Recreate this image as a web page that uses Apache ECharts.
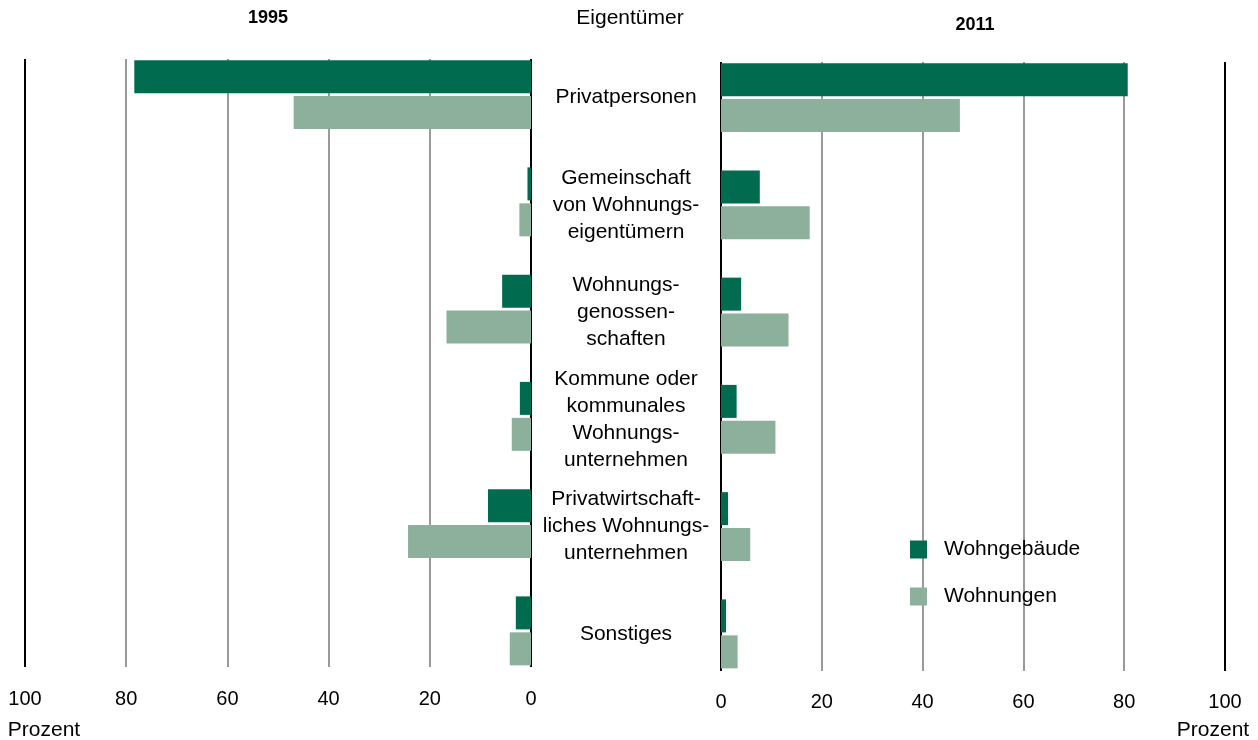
<!DOCTYPE html>
<html>
<head>
<meta charset="utf-8">
<script src="https://cdn.jsdelivr.net/npm/echarts@6/dist/echarts.min.js"></script>
<style>
  html, body { margin: 0; padding: 0; background: #fff; }
  #chart { width: 1258px; height: 740px; }
</style>
</head>
<body>
<div id="chart"></div>
<script>
// Eigentümer categories, top to bottom
const owners = [
  "Privatpersonen",
  "Gemeinschaft\nvon Wohnungs-\neigentümern",
  "Wohnungs-\ngenossen-\nschaften",
  "Kommune oder\nkommunales\nWohnungs-\nunternehmen",
  "Privatwirtschaft-\nliches Wohnungs-\nunternehmen",
  "Sonstiges",
];
const buildings1995 = [78.4, 0.7, 5.7, 2.2, 8.5, 3.0];
const dwellings1995 = [46.9, 2.3, 16.7, 3.8, 24.3, 4.2];
const buildings2011 = [80.7, 7.7, 4.0, 3.1, 1.4, 1.0];
const dwellings2011 = [47.4, 17.6, 13.4, 10.8, 5.8, 3.3];
const percentTicks = [0, 20, 40, 60, 80, 100];

const DARK = "#006b4e";
const LIGHT = "#8cb09b";
const FONT = "'Liberation Sans', Arial, sans-serif";

// black lines at 0 and 100, grey in between
const lineColors = percentTicks.map((t) => (t === 0 || t === 100 ? "#000" : "#9a9a9a"));

function lineAxis(gridIndex, inverse, margin) {
  return {
    gridIndex, type: "value", min: 0, max: 100, interval: 20, inverse,
    axisLine: { show: false }, axisTick: { show: false },
    axisLabel: { color: "#000", fontSize: 20, fontFamily: FONT, margin },
    splitLine: { show: true, showMinLine: true, showMaxLine: true,
      lineStyle: { color: lineColors, width: 2 } },
  };
}

function barAxis(gridIndex, inverse) {
  return { gridIndex, type: "value", min: 0, max: 100, inverse, show: false,
    splitLine: { show: false } };
}

function barSeries(name, values, idx, color) {
  return {
    name, type: "bar", data: values, xAxisIndex: idx, yAxisIndex: idx,
    barWidth: 33, barGap: "9%", itemStyle: { color }, z: 3,
  };
}

function label(text, x, y, size, bold) {
  return { type: "text", x, y, style: { text, fontSize: size, fontWeight: bold ? "bold" : "normal",
    fontFamily: FONT, fill: "#000", align: "center", verticalAlign: "middle" } };
}

const chart = echarts.init(document.getElementById("chart"));
chart.setOption({
  animation: false,
  textStyle: { fontFamily: FONT },
  grid: [
    { left: 25, right: 727, top: 59, bottom: 73 },   // left lines
    { left: 721, right: 33, top: 62, bottom: 69 },   // right lines
    { left: 25, right: 727, top: 41, height: 643.5 }, // left bars
    { left: 721, right: 33, top: 44, height: 643.5 }, // right bars
  ],
  xAxis: [lineAxis(0, true, 22), lineAxis(1, false, 21), barAxis(2, true), barAxis(3, false)],
  yAxis: [
    { gridIndex: 0, type: "value", show: false },
    { gridIndex: 1, type: "value", show: false },
    { gridIndex: 2, type: "category", data: owners, inverse: true, show: false },
    {
      gridIndex: 3, type: "category", data: owners, inverse: true,
      axisLine: { show: false }, axisTick: { show: false }, splitLine: { show: false },
      axisLabel: { margin: 95, align: "center", color: "#000", fontSize: 21,
        lineHeight: 27, fontFamily: FONT },
    },
  ],
  legend: {
    orient: "vertical", left: 905, top: 534,
    icon: "rect", itemWidth: 17, itemHeight: 18, itemGap: 26,
    data: ["Wohngebäude", "Wohnungen"],
    textStyle: { fontSize: 21, color: "#000", fontFamily: FONT, padding: [0, 0, 0, 12] },
  },
  series: [
    barSeries("Wohngebäude", buildings1995, 2, DARK),
    barSeries("Wohnungen", dwellings1995, 2, LIGHT),
    barSeries("Wohngebäude", buildings2011, 3, DARK),
    barSeries("Wohnungen", dwellings2011, 3, LIGHT),
  ],
  graphic: [
    label("1995", 268, 18, 18, true),
    label("Eigentümer", 630, 18, 21, false),
    label("2011", 975, 25, 18, true),
    label("Prozent", 44, 730, 21, false),
    label("Prozent", 1213, 730, 21, false),
  ],
});
</script>
</body>
</html>
